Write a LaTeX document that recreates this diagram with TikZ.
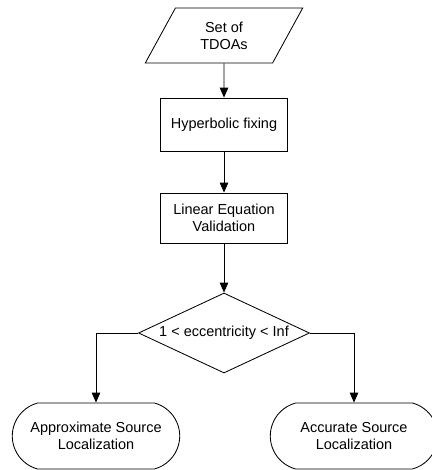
\documentclass[tikz,border=0pt]{standalone}
\usepackage{fontspec}
\setmainfont{Liberation Sans}
\usetikzlibrary{shapes.geometric, shapes.misc, arrows.meta}

\begin{document}
\begin{tikzpicture}[
  every node/.style={font=\fontsize{10.3}{12.2}\selectfont, align=center, line width=0.6pt},
  bloc/.style={draw, rectangle, minimum width=3.175cm, inner sep=2pt},
  donnee/.style={draw, trapezium, trapezium left angle=63, trapezium right angle=117,
    trapezium stretches=true, minimum width=3.95cm, minimum height=1.375cm, inner sep=1pt},
  test/.style={draw, diamond, aspect=2.14, minimum width=4.275cm, minimum height=2cm, inner sep=0pt},
  fin/.style={draw, rounded rectangle, rounded rectangle arc length=150,
    minimum width=4.42cm, minimum height=1.65cm},
  fleche/.style={draw, line width=0.6pt, -{Triangle[length=7pt, width=6pt]}}
]
\useasboundingbox (0,0) rectangle (10.8,11.75);
% Noeuds
\node[donnee] (tdoa) at (5.600000, 10.862500) {Set of\\TDOAs};
\node[bloc, minimum height=1.325cm] (hyp) at (5.600000, 8.637500) {Hyperbolic fixing};
\node[bloc, minimum height=1.25cm] (lin) at (5.600000, 6.300000) {Linear Equation\\Validation};
\node[test] (ecc) at (5.600000, 3.425000) {1 < eccentricity < Inf};
\node[fin] (approx) at (2.400000, 0.850000) {Approximate Source\\Localization};
\node[fin] (exact) at (8.850000, 0.850000) {Accurate Source\\Localization};
% Fleches
\draw[fleche] (tdoa) -- (hyp);
\draw[fleche] (hyp) -- (lin);
\draw[fleche] (lin) -- (ecc);
\draw[fleche] (ecc.west) -| (approx.north);
\draw[fleche] (ecc.east) -| (exact.north);
\end{tikzpicture}
\end{document}
